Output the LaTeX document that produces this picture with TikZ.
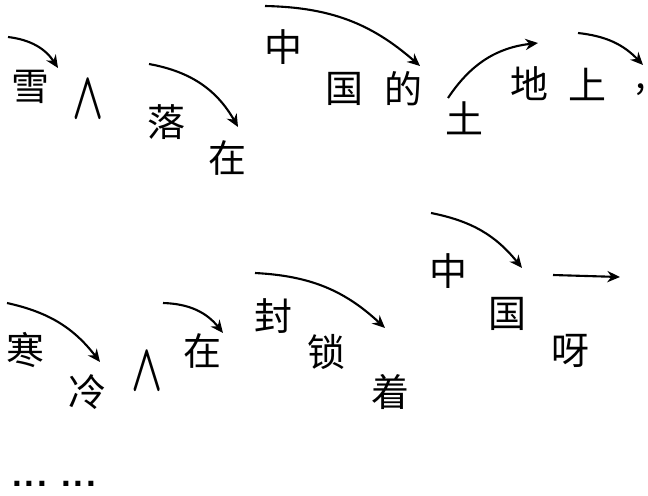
\documentclass[tikz,border=0pt]{standalone}
\usepackage{fontspec}
\newfontfamily\cjk{Noto Sans CJK SC}
\newfontfamily\dotfont{Liberation Sans}
\usetikzlibrary{arrows.meta}

\tikzset{
    zi/.style={font=\cjk\fontsize{27}{27}\selectfont, inner sep=0pt},
    jiao/.style={inner sep=0pt},
    arr/.style={line width=1.5pt, -{Stealth[length=9pt,width=8pt]}},
}
\newcommand{\jiaomark}{\scalebox{2.9}[4.8]{\boldmath$\wedge$}}
\newcommand{\sandian}{.\hspace{2pt}.\hspace{2pt}.}

\begin{document}
\begin{tikzpicture}[x=0.025cm, y=-0.025cm]
        \useasboundingbox (0,0) rectangle (648,495);
        % first line
        \node[zi] (xue) at (30,87) {雪};
        \node[jiao] (ins1) at (88,100) {\jiaomark};
        \node[zi] (luo) at (166,122) {落};
        \node[zi] (zai1) at (227,158) {在};
        \node[zi] (zhong1) at (283,47) {中};
        \node[zi] (guo1) at (344,89) {国};
        \node[zi] (de) at (403,89) {的};
        \node[zi] (tu) at (464,118) {土};
        \node[zi] (di) at (529,84) {地};
        \node[zi] (shang) at (587,84) {上};
        \node[zi] (dou) at (641,90) {,};
        \coordinate (a1) at (8,37);     \coordinate (b1) at (58,68);
        \coordinate (a2) at (149,64);   \coordinate (b2) at (238,127);
        \coordinate (a3) at (265,6);    \coordinate (b3) at (420,66);
        \coordinate (a4) at (448,98);   \coordinate (b4) at (538,43);
        \coordinate (a5) at (578,33);   \coordinate (b5) at (643,65);
        \draw[arr] (a1) to[bend left=25] (b1);
        \draw[arr] (a2) to[bend left=25] (b2);
        \draw[arr] (a3) to[bend left=20] (b3);
        \draw[arr] (a4) to[bend left=25] (b4);
        \draw[arr] (a5) to[bend left=20] (b5);
        % second line
        \node[zi] (han) at (25,350) {寒};
        \node[zi] (leng) at (87,392) {冷};
        \node[jiao] (ins2) at (147,372) {\jiaomark};
        \node[zi] (zai2) at (202,351) {在};
        \node[zi] (feng) at (273,316) {封};
        \node[zi] (suo) at (326,352) {锁};
        \node[zi] (zhe) at (390,392) {着};
        \node[zi] (zhong2) at (448,271) {中};
        \node[zi] (guo2) at (507,314) {国};
        \node[zi] (ya) at (570,351) {呀};
        \coordinate (a6) at (7,303);    \coordinate (b6) at (100,362);
        \coordinate (a7) at (163,303);  \coordinate (b7) at (223,333);
        \coordinate (a8) at (255,273);  \coordinate (b8) at (385,328);
        \coordinate (a9) at (431,213);  \coordinate (b9) at (522,268);
        \coordinate (a10) at (553,275); \coordinate (b10) at (620,277);
        \draw[arr] (a6) to[bend left=20] (b6);
        \draw[arr] (a7) to[bend left=25] (b7);
        \draw[arr] (a8) to[bend left=20] (b8);
        \draw[arr] (a9) to[bend left=20] (b9);
        \draw[arr] (a10) -- (b10);
        \node[font=\dotfont\bfseries\fontsize{25}{25}\selectfont, inner sep=0pt]
            (dian) at (54,484) {\sandian\hspace{10pt}\sandian};
    \end{tikzpicture}
\end{document}
